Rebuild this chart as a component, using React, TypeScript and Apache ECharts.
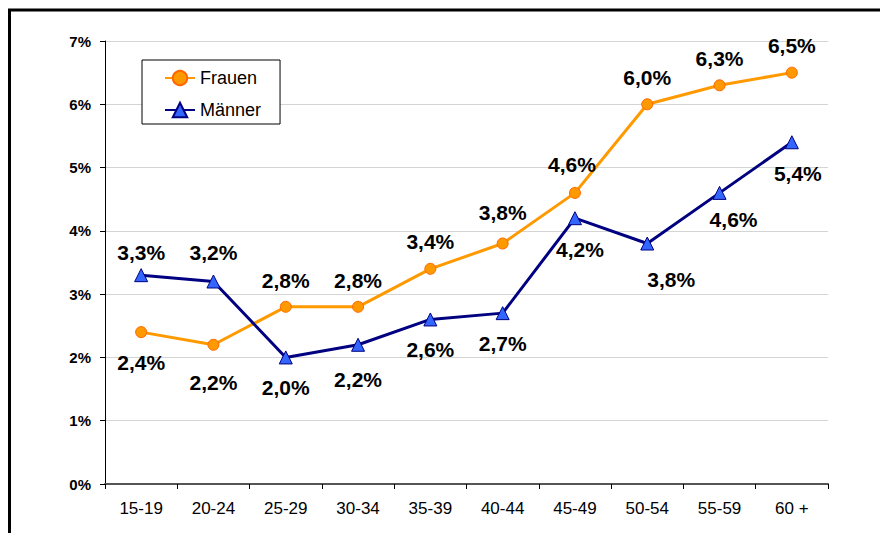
import React, { useEffect, useRef } from "react";
import * as echarts from "echarts";

const categories = ["15-19", "20-24", "25-29", "30-34", "35-39", "40-44", "45-49", "50-54", "55-59", "60 +"];
const frauen = [2.4, 2.2, 2.8, 2.8, 3.4, 3.8, 4.6, 6.0, 6.3, 6.5];
const maenner = [3.3, 3.2, 2.0, 2.2, 2.6, 2.7, 4.2, 3.8, 4.6, 5.4];
const yTicks = [0, 1, 2, 3, 4, 5, 6, 7];

const frauenLabelOffsets = [[0, 30], [0, 38], [0, -26], [0, -26], [0, -27], [0, -31], [-3, -28], [0, -27], [0, -27], [0, -27]];
const maennerLabelOffsets = [[0, -23], [0, -29], [0, 30], [0, 35], [0, 30], [0, 30], [5, 31], [24, 36], [14, 27], [6, 31]];

const fmt = (v: number) => v.toFixed(1).replace(".", ",") + "%";

export default function App() {
  const ref = useRef<HTMLDivElement>(null);
  useEffect(() => {
    const chart = echarts.init(ref.current!, null, { renderer: "svg" });
    const font = "Liberation Sans, Arial, sans-serif";
    const mk = (vals: number[], offs: number[][]) =>
      vals.map((v, i) => ({
        value: v,
        label: { offset: offs[i] },
      }));
    const labelBase = {
      show: true,
      position: "inside",
      fontFamily: font,
      fontWeight: "bold",
      fontSize: 21,
      color: "#000",
      formatter: (p: any) => fmt(p.value),
    };
    chart.setOption({
      animation: false,
      backgroundColor: "#fff",
      textStyle: { fontFamily: font },
      grid: { left: 105, right: 52, top: 41, bottom: 49, containLabel: false },
      graphic: [
        {
          type: "rect",
          shape: { x: 9.5, y: 10, width: 1000, height: 1000 },
          style: { fill: "none", stroke: "#000", lineWidth: 3 },
          silent: true,
        },
      ],
      legend: {
        orient: "vertical",
        left: 142,
        top: 60,
        padding: [9, 19, 5, 22],
        itemGap: 14,
        itemWidth: 30,
        itemHeight: 18,
        borderColor: "#000",
        borderWidth: 1,
        backgroundColor: "#fff",
        textStyle: { fontFamily: font, fontSize: 18, color: "#000" },
        data: ["Frauen", "Männer"],
      },
      xAxis: {
        type: "category",
        data: categories,
        boundaryGap: true,
        axisLine: { lineStyle: { color: "#555", width: 2 } },
        axisTick: { show: true, length: 5, alignWithLabel: false, lineStyle: { color: "#000" } },
        axisLabel: { color: "#000", fontSize: 17, fontFamily: font, margin: 16 },
        splitLine: { show: false },
      },
      yAxis: {
        type: "value",
        min: 0,
        max: 7,
        interval: 1,
        axisLine: { show: true, lineStyle: { color: "#000", width: 1 } },
        axisTick: { show: true, length: 5, lineStyle: { color: "#000" } },
        axisLabel: {
          color: "#000",
          fontSize: 15,
          fontWeight: "bold",
          fontFamily: font,
          margin: 14,
          formatter: (v: number) => (yTicks.includes(v) ? v + "%" : ""),
        },
        splitLine: { show: true, lineStyle: { color: "#d4d4d4", width: 1 } },
      },
      series: [
        {
          name: "Frauen",
          type: "line",
          data: mk(frauen, frauenLabelOffsets),
          symbol: "circle",
          symbolSize: 11,
          lineStyle: { color: "#FF9900", width: 3 },
          itemStyle: { color: "#FF9900", borderColor: "#FF6600", borderWidth: 1 },
          label: labelBase,
          z: 3,
        },
        {
          name: "Männer",
          type: "line",
          data: mk(maenner, maennerLabelOffsets),
          symbol: "triangle",
          symbolSize: 13,
          lineStyle: { color: "#000080", width: 3 },
          itemStyle: { color: "#3366FF", borderColor: "#000080", borderWidth: 1 },
          label: labelBase,
          z: 4,
        },
      ],
    });
    return () => chart.dispose();
  }, []);
  return (
    <div
      ref={ref}
      style={{ position: "fixed", left: 0, top: 0, width: 880, height: 533, background: "#fff" }}
    />
  );
}
